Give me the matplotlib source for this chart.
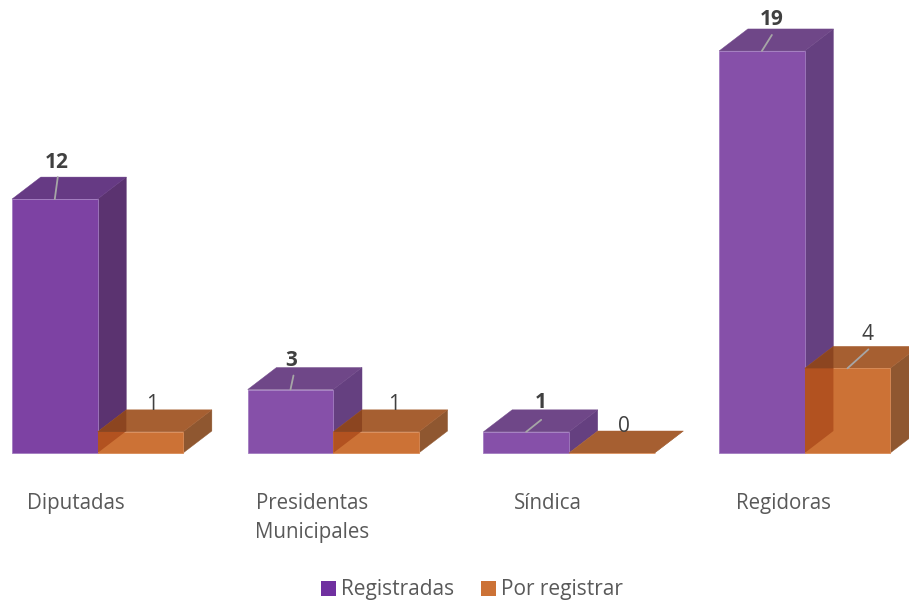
import matplotlib
matplotlib.use('Agg')
import matplotlib.pyplot as plt
import matplotlib.patches as patches

categories = ['Diputadas', 'Presidentas\nMunicipales', 'Síndica', 'Regidoras']
registradas = [12, 3, 1, 19]
por_registrar = [1, 1, 0, 4]

# look of the fake 3D boxes
BAR_W = 0.363
DEPTH_X = 0.122
DEPTH_Y = 1.04
PX_X = 235.7
PX_Y = 21.16

purple_faces = [
    ('#7D42A3', '#5B3370', '#663A84'),
    ('#8650A9', '#654080', '#6F4788'),
    ('#8650A9', '#654080', '#6F4788'),
    ('#8650A9', '#654080', '#6F4788'),
]
orange_faces = ('#CC7236', '#8F5730', '#A65F31')
OVER_FRONT = '#B25220'
OVER_TOP = '#8C4520'

# label offsets from the bar's top centre, in pixels
purple_label_off = [(2, 37), (1, 29), (15, 29), (10, 31)]
purple_line_off = [(3, 22), (3, 14), (15, 12), (10, 16)]
orange_label_off = [(12, 27), (18, 27), (12, 26), (20, 34)]
orange_line_off = [None, None, None, (21, 19)]


def draw_box(ax, x, h, faces, edge, z):
    """Draws front, side and top faces of one box. Returns (side, front, top)."""
    front_c, side_c, top_c = faces
    front = patches.Polygon([(x, 0), (x + BAR_W, 0), (x + BAR_W, h), (x, h)],
                            facecolor=front_c, edgecolor=edge, linewidth=0.6, zorder=z)
    side = patches.Polygon([(x + BAR_W, 0), (x + BAR_W + DEPTH_X, DEPTH_Y),
                            (x + BAR_W + DEPTH_X, h + DEPTH_Y), (x + BAR_W, h)],
                           facecolor=side_c, edgecolor=side_c, linewidth=0.3, zorder=z)
    top = patches.Polygon([(x, h), (x + BAR_W, h), (x + BAR_W + DEPTH_X, h + DEPTH_Y),
                           (x + DEPTH_X, h + DEPTH_Y)],
                          facecolor=top_c, edgecolor=top_c, linewidth=0.3, zorder=z)
    for p in (side, top, front):
        p.set_clip_on(False)
        ax.add_patch(p)
    return side, front, top


plt.rcParams['font.family'] = ['Open Sans', 'DejaVu Sans']

fig = plt.figure(figsize=(9.09, 6.02), dpi=100)
ax = fig.add_axes([0, 149 / 602, 1, 453 / 602])
ax.set_xlim(-12 / PX_X, (909 - 12) / PX_X)
ax.set_ylim(0, 453 / PX_Y)
for s in ax.spines.values():
    s.set_visible(False)
ax.set_yticks([])
ax.set_xticks([i + 64 / PX_X for i in range(len(categories))])
ax.set_xticklabels(categories, fontsize=14.8, color='#595959', linespacing=1.5, va='top')
ax.tick_params(axis='x', length=0, pad=29)

for i, (a, b) in enumerate(zip(registradas, por_registrar)):
    draw_box(ax, i, a, purple_faces[i], '#A27CC0', 2)
    x2 = i + BAR_W
    side2, front2, top2 = draw_box(ax, x2, b, orange_faces, '#D98A55', 3)

    # purple side wall showing through the orange box
    wall = [(x2, 0), (x2 + DEPTH_X, DEPTH_Y), (x2 + DEPTH_X, a + DEPTH_Y), (x2, a)]
    if b > 0:
        over = patches.Polygon(wall, facecolor=OVER_FRONT, edgecolor='none', zorder=4)
        ax.add_patch(over)
        over.set_clip_path(front2)
        over2 = patches.Polygon(wall, facecolor=OVER_TOP, edgecolor='none', zorder=4)
        ax.add_patch(over2)
        over2.set_clip_path(top2)

    cx = i + BAR_W / 2
    ax.annotate(str(a), (cx, a), xytext=purple_label_off[i], textcoords='offset pixels',
                ha='center', va='center', fontsize=15, fontweight='bold',
                color='#404040', zorder=6, annotation_clip=False)
    ax.annotate('', (cx, a), xytext=purple_line_off[i], textcoords='offset pixels',
                arrowprops=dict(arrowstyle='-', color='#A6A6A6', lw=1.3, shrinkA=0, shrinkB=0),
                zorder=6)

    cx2 = x2 + BAR_W / 2
    ax.annotate(str(b), (cx2, b), xytext=orange_label_off[i], textcoords='offset pixels',
                ha='center', va='center', fontsize=15, color='#404040', zorder=6,
                annotation_clip=False)
    if orange_line_off[i]:
        ax.annotate('', (cx2, b), xytext=orange_line_off[i], textcoords='offset pixels',
                    arrowprops=dict(arrowstyle='-', color='#A6A6A6', lw=1.3, shrinkA=0, shrinkB=0),
                    zorder=6)

handles = [patches.Patch(facecolor='#7030A0', label='Registradas'),
           patches.Patch(facecolor='#CC7236', label='Por registrar')]
fig.legend(handles=handles, loc='center', bbox_to_anchor=(472 / 909, 1 - 590 / 602), ncol=2,
           frameon=False, fontsize=15, labelcolor='#595959', handlelength=0.7,
           handleheight=0.7, handletextpad=0.25, columnspacing=1.3, borderpad=0)

plt.savefig('out.png', dpi=100)
plt.close(fig)
